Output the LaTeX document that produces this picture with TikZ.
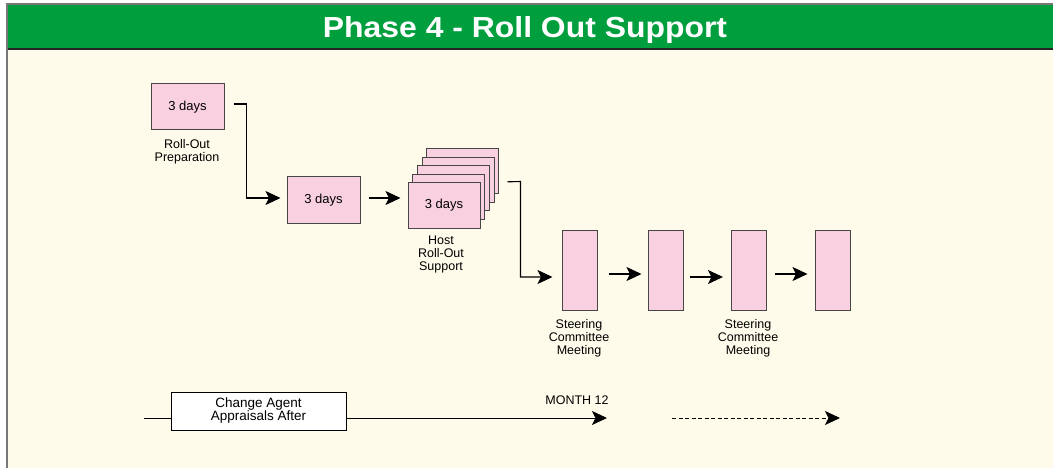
\documentclass[tikz,border=0pt]{standalone}
\usepackage{fontspec}
\setmainfont{Liberation Sans}
\usetikzlibrary{arrows.meta}
\definecolor{hdr}{RGB}{0,158,61}
\definecolor{cream}{RGB}{254,251,234}
\definecolor{pinkf}{RGB}{249,208,224}
\definecolor{edgec}{RGB}{70,70,70}
\definecolor{frame}{RGB}{120,120,120}
\tikzset{
  pbox/.style={draw=edgec, line width=1pt, fill=pinkf, inner sep=0pt, font=\fontsize{13}{13}\selectfont},
  wide/.style={pbox, minimum width=73pt, minimum height=46pt},
  tall/.style={pbox, minimum width=35pt, minimum height=80pt},
  lbl/.style={align=center, inner sep=0pt, font=\fontsize{12.5}{13}\selectfont},
  conn/.style={draw=black, line width=1.1pt},
  arr/.style={-{Stealth[length=15pt,width=14pt,inset=3.5pt]}},
}
\begin{document}
\begin{tikzpicture}[x=1pt,y=-1pt]
\useasboundingbox (0,0) rectangle (1053,468);
\fill[white] (0,0) rectangle (1053,468);
\fill[cream] (7,4) rectangle (1053,468);
\fill[hdr] (7,4) rectangle (1053,49);
\draw[black!85, line width=1.5pt] (7,49) -- (1053,49);
\draw[frame, line width=2pt] (7,468) -- (7,4) -- (1053,4);
\node[text=white, inner sep=0pt, font=\fontsize{29}{29}\selectfont\bfseries] (title) at (525,30) {\scalebox{1.1}[1]{Phase 4 - Roll Out Support}};

% boxes
\node[wide] (b1) at (187.5,107) {3 days};
\node[lbl] (l1) at (187,152) {Roll-Out\\Preparation};
\node[wide] (b2) at (323.5,200) {3 days};
\node[wide, minimum width=72pt, minimum height=45pt] (s4) at (462.7,171.5) {};
\node[wide, minimum width=72pt, minimum height=45pt] (s3) at (458,180) {};
\node[wide, minimum width=72pt, minimum height=45pt] (s2) at (453.3,188.5) {};
\node[wide, minimum width=72pt, minimum height=45pt] (s1) at (448.7,197) {};
\node[wide, minimum width=72pt, minimum height=45pt] (host) at (444,205.5) {3 days};
\node[lbl] (l2) at (441,254) {Host\\Roll-Out\\Support};

\node[tall] (A) at (579.5,270) {};
\node[tall] (B) at (665.5,270) {};
\node[tall] (C) at (749,270) {};
\node[tall] (D) at (832.5,270) {};
\node[lbl] (l3) at (579,338) {Steering\\Committee\\Meeting};
\node[lbl] (l4) at (748,338) {Steering\\Committee\\Meeting};

% connectors
\draw[conn, arr, shorten <=9pt, shorten >=6pt] ([yshift=3pt]b1.east) -- ++(22,0) |- ([yshift=2pt]b2.west);
\draw[conn, arr, shorten <=8pt, shorten >=7pt] ([yshift=2pt]b2.east) -- ([yshift=2pt]b2.east -| host.west);
\draw[conn, arr, shorten <=27pt, shorten >=9pt] (host.north east) -- ++(40,-1) |- ([yshift=-7pt]A.west);
\draw[conn, arr, shorten <=11pt, shorten >=6pt] ([yshift=-4pt]A.east) -- ([yshift=-4pt]B.west);
\draw[conn, arr, shorten <=6pt, shorten >=8pt] ([yshift=-7pt]B.east) -- ([yshift=-7pt]C.west);
\draw[conn, arr, shorten <=8pt, shorten >=7pt] ([yshift=-4pt]C.east) -- ([yshift=-4pt]D.west);

% bottom timeline
\node[draw=black, line width=1pt, fill=white, minimum width=175pt, minimum height=38pt, inner sep=0pt, align=center, font=\fontsize{13.5}{13}\selectfont] (ca) at (258.5,411) {Change Agent\\Appraisals After};
\coordinate (t0) at (144,418);
\coordinate (m12) at (607,418);
\coordinate (d0) at (672,418);
\coordinate (d1) at (840,418);
\node[inner sep=0pt, font=\fontsize{12.5}{13}\selectfont] (mlabel) at (577,400) {MONTH 12};
\draw[conn, line width=1pt] (t0) -- (t0 -| ca.west);
\draw[conn, line width=1pt, arr] (m12 -| ca.east) -- (m12);
\draw[conn, line width=1pt, arr, dash pattern=on 4pt off 2.5pt] (d0) -- (d1);
\end{tikzpicture}
\end{document}
